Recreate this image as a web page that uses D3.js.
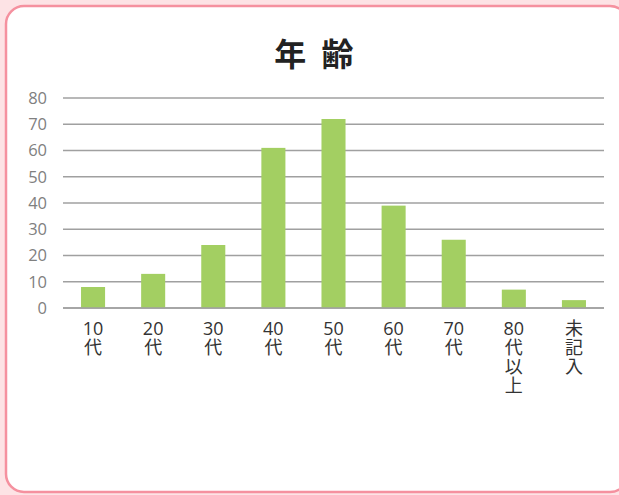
<!DOCTYPE html>
<html><head><meta charset="utf-8">
<script src="https://cdn.jsdelivr.net/npm/d3@7"></script>
<style>
html,body{margin:0;padding:0;background:#fde3e5;}
svg{display:block;}
</style></head>
<body>
<script>
const categories = ["10代","20代","30代","40代","50代","60代","70代","80代以上","未記入"];
const labelLines = [["10","代"],["20","代"],["30","代"],["40","代"],["50","代"],["60","代"],["70","代"],["80","代","以","上"],["未","記","入"]];
const values = [8,13,24,61,72,39,26,7,3];
const yTicks = [0,10,20,30,40,50,60,70,80];
const title = "年 齢";

const W = 619, H = 495;
const svg = d3.select("body").append("svg").attr("width", W).attr("height", H);
svg.append("rect").attr("width", W).attr("height", H).attr("fill", "#fde3e5");
svg.append("rect").attr("x", 6).attr("y", 6).attr("width", 622).attr("height", 486)
  .attr("rx", 18).attr("ry", 18).attr("fill", "#fff").attr("stroke", "#f5919f").attr("stroke-width", 2.5);

svg.append("text").attr("x", 316).attr("y", 66).attr("text-anchor", "middle")
  .attr("font-family", "'Noto Sans CJK JP', sans-serif").attr("font-weight", "bold")
  .attr("letter-spacing", 4)
  .attr("font-size", 32).attr("fill", "#222").text(title);

const x = d3.scaleBand().domain(categories).range([63, 604]).paddingInner(0.6).paddingOuter(0.3);
const y = d3.scaleLinear().domain([0, 80]).range([308, 98]);

const grid = svg.append("g");
grid.selectAll("line").data(yTicks).join("line")
  .attr("x1", 63).attr("x2", 604).attr("y1", d => y(d)).attr("y2", d => y(d))
  .attr("stroke", "#a0a0a0").attr("stroke-width", 1.3);

const yAxis = svg.append("g").attr("transform", "translate(63,0)")
  .call(d3.axisLeft(y).tickValues(yTicks).tickSize(0).tickPadding(16));
yAxis.select(".domain").remove();
yAxis.selectAll("text").attr("font-family", "'Open Sans', 'Noto Sans', sans-serif")
  .attr("font-size", 16.5).attr("fill", "#808080");

svg.append("g").selectAll("rect").data(values).join("rect")
  .attr("x", (d, i) => x(categories[i])).attr("width", x.bandwidth())
  .attr("y", d => y(d)).attr("height", d => y(0) - y(d))
  .attr("fill", "#a3cf62");

svg.append("line").attr("x1", 63).attr("x2", 604).attr("y1", y(0)).attr("y2", y(0))
  .attr("stroke", "#a0a0a0").attr("stroke-width", 1.3);

const xl = svg.append("g");
categories.forEach((c, i) => {
  const cx = x(c) + x.bandwidth() / 2;
  labelLines[i].forEach((s, j) => {
    xl.append("text").attr("text-anchor", "middle")
      .attr("font-family", "'Open Sans', 'Noto Sans CJK JP', sans-serif").attr("font-size", 18).attr("fill", "#333")
      .attr("x", cx).attr("y", 335 + j * 19).text(s);
  });
});
</script>
</body></html>
